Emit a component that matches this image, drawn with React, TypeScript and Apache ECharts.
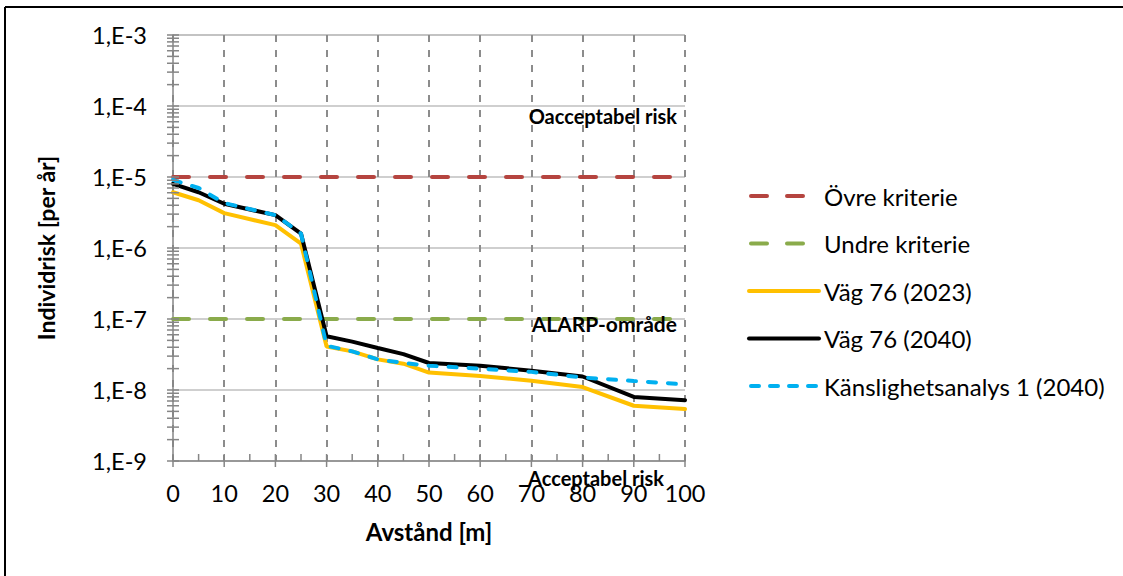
import React, { useEffect, useRef } from "react";
import * as echarts from "echarts";

const distances = [0, 5, 10, 20, 25, 30, 35, 40, 45, 50, 60, 70, 80, 90, 100];
const vag2023 = [6.1e-6, 4.7e-6, 3.1e-6, 2.1e-6, 1.15e-6, 4.1e-8, 3.5e-8, 2.7e-8, 2.35e-8, 1.76e-8, 1.58e-8, 1.35e-8, 1.1e-8, 6.0e-9, 5.4e-9];
const vag2040 = [8.0e-6, 6.1e-6, 4.2e-6, 2.9e-6, 1.6e-6, 5.7e-8, 4.8e-8, 3.9e-8, 3.2e-8, 2.4e-8, 2.2e-8, 1.87e-8, 1.55e-8, 8.0e-9, 7.2e-9];
const kanslighet = [9.1e-6, 7.0e-6, 4.3e-6, 2.9e-6, 1.6e-6, 4.2e-8, 3.5e-8, 2.7e-8, 2.4e-8, 2.2e-8, 2.0e-8, 1.8e-8, 1.5e-8, 1.34e-8, 1.2e-8];
const ovreKriterie = 1e-5;
const undreKriterie = 1e-7;
const critX = [0, 100];
const seriesNames = ["Övre kriterie", "Undre kriterie", "Väg 76 (2023)", "Väg 76 (2040)", "Känslighetsanalys 1 (2040)"];
const seriesColors = ["#b5443f", "#8aab4b", "#ffc000", "#000000", "#00b0f0"];
const yMin = 1e-9;
const yMax = 1e-3;
const xMin = 0;
const xMax = 100;
const xStep = 10;

const FONT = "Lato";

export default function App() {
  const ref = useRef<HTMLDivElement>(null);
  useEffect(() => {
    if (!ref.current) return;
    const chart = echarts.init(ref.current, null, { renderer: "svg" });

    const yTicks: number[][] = [];
    for (let e = -9; e <= -3; e++) {
      yTicks.push([0, Math.pow(10, e), 1]);
      if (e < -3) for (let m = 2; m <= 9; m++) yTicks.push([0, m * Math.pow(10, e), 0]);
    }
    const xTicks: number[][] = [];
    for (let x = xMin; x <= xMax; x += 5) xTicks.push([x, yMin, x % 10 === 0 ? 1 : 0]);

    const tickColor = "#868686";
    const lineW = 4;
    const critDash = [16, 21];
    const blueDash = [8, 12];
    const lineStyles: any[] = [
      { color: seriesColors[0], width: lineW, type: critDash, cap: "round" },
      { color: seriesColors[1], width: lineW, type: critDash, cap: "round" },
      { color: seriesColors[2], width: lineW, type: "solid", cap: "round" },
      { color: seriesColors[3], width: lineW, type: "solid", cap: "round" },
      { color: seriesColors[4], width: lineW, type: blueDash, cap: "round" },
    ];
    const legendStyles: any[] = [
      { color: seriesColors[0], width: lineW, type: [16, 20], cap: "round", dashOffset: -2 },
      { color: seriesColors[1], width: lineW, type: [16, 20], cap: "round", dashOffset: -2 },
      lineStyles[2],
      lineStyles[3],
      { color: seriesColors[4], width: lineW, type: [8, 11], cap: "round", dashOffset: -2 },
    ];

    chart.setOption({
      animation: false,
      backgroundColor: "#ffffff",
      grid: { left: 173, right: 438, top: 35, bottom: 115, containLabel: false },
      xAxis: {
        type: "value",
        min: xMin,
        max: xMax,
        interval: xStep,
        name: "Avstånd [m]",
        nameLocation: "middle",
        nameGap: 58,
        nameTextStyle: { fontFamily: FONT, fontWeight: "bold", fontSize: 24, color: "#000" },
        axisLine: { show: true, lineStyle: { color: tickColor, width: 1.5 } },
        axisTick: { show: false },
        axisLabel: { fontFamily: FONT, fontSize: 23.5, color: "#000", margin: 20 },
        splitLine: { show: true, lineStyle: { color: "#8c8c8c", width: 2, type: [7, 8] } },
      },
      yAxis: {
        type: "log",
        logBase: 10,
        min: yMin,
        max: yMax,
        name: "Individrisk [per år]",
        nameLocation: "middle",
        nameGap: 116,
        nameTextStyle: { fontFamily: FONT, fontWeight: "bold", fontSize: 23, color: "#000" },
        axisLine: { show: true, lineStyle: { color: tickColor, width: 1.5 } },
        axisTick: { show: false },
        axisLabel: {
          fontFamily: FONT,
          fontSize: 23.5,
          color: "#000",
          margin: 26,
          formatter: (v: number) => "1,E" + Math.round(Math.log10(v)),
        },
        splitLine: { show: true, lineStyle: { color: "#bfbfbf", width: 1.5 } },
      },
      legend: {
        orient: "vertical",
        left: 747,
        top: 184,
        padding: 0,
        itemWidth: 70,
        itemHeight: 20,
        itemGap: 23.5,
        data: seriesNames.map((n, i) => ({
          name: n,
          lineStyle: legendStyles[i],
          itemStyle: { opacity: 0 },
        })),
        textStyle: { fontFamily: FONT, fontSize: 24, color: "#000" },
      },
      graphic: [
        { type: "line", shape: { x1: 5, y1: 7, x2: 1123, y2: 7 }, style: { stroke: "#000", lineWidth: 2 } },
        { type: "line", shape: { x1: 5, y1: 7, x2: 5, y2: 576 }, style: { stroke: "#000", lineWidth: 2 } },
        { type: "text", right: 1123 - 677, top: 106, style: { text: "Oacceptabel risk", font: `bold 20px ${FONT}`, fill: "#000" }, z: 100 },
        { type: "text", right: 1123 - 677, top: 313, style: { text: "ALARP-område", font: `bold 21px ${FONT}`, fill: "#000" }, z: 100 },
        { type: "text", right: 1123 - 664, top: 468, style: { text: "Acceptabel risk", font: `bold 20px ${FONT}`, fill: "#000" }, z: 100 },
      ],
      series: [
        {
          name: seriesNames[0],
          type: "line",
          data: critX.map((x) => [x, ovreKriterie]),
          symbol: "none",
          lineStyle: lineStyles[0],
          itemStyle: { color: seriesColors[0] },
          z: 2,
        },
        {
          name: seriesNames[1],
          type: "line",
          data: critX.map((x) => [x, undreKriterie]),
          symbol: "none",
          lineStyle: lineStyles[1],
          itemStyle: { color: seriesColors[1] },
          z: 2,
        },
        {
          name: seriesNames[2],
          type: "line",
          data: distances.map((x, i) => [x, vag2023[i]]),
          symbol: "none",
          lineStyle: lineStyles[2],
          itemStyle: { color: seriesColors[2] },
          z: 3,
        },
        {
          name: seriesNames[3],
          type: "line",
          data: distances.map((x, i) => [x, vag2040[i]]),
          symbol: "none",
          lineStyle: lineStyles[3],
          itemStyle: { color: seriesColors[3] },
          z: 4,
        },
        {
          name: seriesNames[4],
          type: "line",
          data: distances.map((x, i) => [x, kanslighet[i]]),
          symbol: "none",
          lineStyle: lineStyles[4],
          itemStyle: { color: seriesColors[4] },
          z: 5,
        },
        {
          type: "custom",
          coordinateSystem: "cartesian2d",
          data: yTicks,
          silent: true,
          clip: false,
          z: 6,
          renderItem: (params: any, api: any) => {
            const p = api.coord([api.value(0), api.value(1)]);
            return {
              type: "line",
              shape: { x1: p[0] - 6, y1: p[1], x2: p[0] + 6, y2: p[1] },
              style: { stroke: tickColor, lineWidth: 1.5 },
            };
          },
        },
        {
          type: "custom",
          coordinateSystem: "cartesian2d",
          data: xTicks,
          silent: true,
          clip: false,
          z: 6,
          renderItem: (params: any, api: any) => {
            const p = api.coord([api.value(0), api.value(1)]);
            const major = api.value(2) === 1;
            return {
              type: "line",
              shape: { x1: p[0], y1: p[1] - 7, x2: p[0], y2: p[1] + (major ? 6 : 0) },
              style: { stroke: tickColor, lineWidth: 1.5 },
            };
          },
        },
      ],
    });
    return () => chart.dispose();
  }, []);
  return <div ref={ref} style={{ width: 1123, height: 576, position: "absolute", left: 0, top: 0 }} />;
}
